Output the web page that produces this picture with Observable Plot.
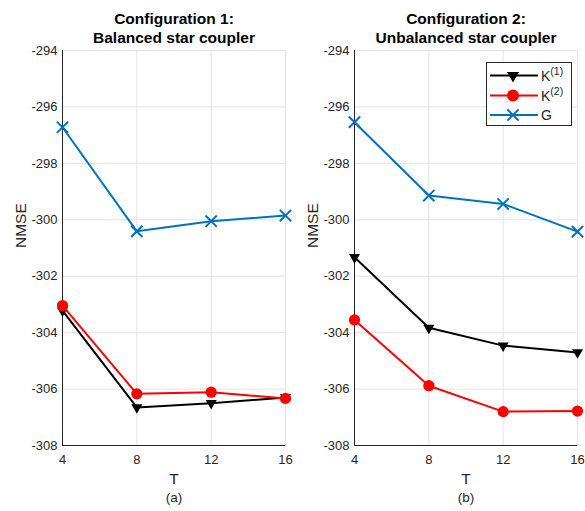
<!DOCTYPE html>
<html><head><meta charset="utf-8">
<script src="https://cdn.jsdelivr.net/npm/d3@7"></script>
<script src="https://cdn.jsdelivr.net/npm/@observablehq/plot@0.6"></script>
<style>
body{margin:0;background:#fff;font-family:"Liberation Sans",Arial,sans-serif;}
#wrap{position:relative;width:585px;height:511px;overflow:hidden;}
.panel{position:absolute;top:0;}
#legend{position:absolute;left:485px;top:62px;}
</style></head><body>
<div id="wrap">
<div class="panel" id="p1" style="left:0px"></div>
<div class="panel" id="p2" style="left:292px"></div>
<div id="legend"></div>
</div>
<script>
// ---- data ----
const T = [4, 8, 12, 16];
const cfg1_K1 = [-303.22, -306.65, -306.50, -306.30];
const cfg1_K2 = [-303.04, -306.17, -306.11, -306.33];
const cfg1_G  = [-296.72, -300.41, -300.05, -299.85];
const cfg2_K1 = [-301.33, -303.83, -304.46, -304.70];
const cfg2_K2 = [-303.55, -305.88, -306.80, -306.78];
const cfg2_G  = [-296.54, -299.14, -299.44, -300.42];
const seriesNames = ["K(1)", "K(2)", "G"];
const titles1 = ["Configuration 1:", "Configuration 2:"];
const titles2 = ["Balanced star coupler", "Unbalanced star coupler"];
const subLabels = ["(a)", "(b)"];
const xTicks = [4, 8, 12, 16];
const yTicks = [-308, -306, -304, -302, -300, -298, -296, -294];

const colors = {"K(1)": "#000000", "K(2)": "#ff0000", "G": "#0072bd"};

function tidy(k1, k2, g) {
  const out = [];
  T.forEach((t, i) => {
    out.push({T: t, v: k1[i], s: "K(1)"});
    out.push({T: t, v: k2[i], s: "K(2)"});
    out.push({T: t, v: g[i], s: "G"});
  });
  return out;
}

function panel(data, t1, t2, sub, width) {
  const axisColor = "#262626";
  return Plot.plot({
    width: width, height: 511,
    marginLeft: 62, marginRight: width - 62 - 223, marginTop: 50, marginBottom: 66,
    style: {fontFamily: "Liberation Sans, Arial, sans-serif", fontSize: "13px", color: axisColor, background: "transparent", overflow: "visible"},
    x: {domain: [4, 16]},
    y: {domain: [-308, -294]},
    marks: [
      Plot.gridX(xTicks, {stroke: "#e3e3e3", strokeOpacity: 1}),
      Plot.gridY(yTicks, {stroke: "#e3e3e3", strokeOpacity: 1}),
      Plot.ruleX([4], {stroke: axisColor, strokeWidth: 1}),
      Plot.ruleY([-308], {stroke: axisColor, strokeWidth: 1}),
      Plot.axisY({ticks: yTicks, tickFormat: d => String(d), tickSize: 0, tickPadding: 5, fontSize: 13, label: null, fill: axisColor}),
      Plot.axisX({ticks: xTicks, tickFormat: d => String(d), tickSize: 0, tickPadding: 9, fontSize: 13, label: null, fill: axisColor}),
      Plot.line(data, {x: "T", y: "v", z: "s", stroke: d => colors[d.s], strokeWidth: 2}),
      Plot.dot(data.filter(d => d.s === "K(1)"), {x: "T", y: "v", symbol: "triangle", rotate: 180, r: 4.1, fill: "#000", stroke: "none"}),
      Plot.dot(data.filter(d => d.s === "K(2)"), {x: "T", y: "v", symbol: "circle", r: 5.6, fill: "#ff0000", stroke: "none"}),
      Plot.dot(data.filter(d => d.s === "G"), {x: "T", y: "v", symbol: "times", r: 5.2, stroke: "#0072bd", strokeWidth: 2, fill: "none"}),
      Plot.text([t1], {text: d => d, frameAnchor: "top", lineAnchor: "middle", dy: -31.5, fontSize: 15.5, fontWeight: "bold", fill: "#000"}),
      Plot.text([t2], {text: d => d, frameAnchor: "top", lineAnchor: "middle", dy: -12, fontSize: 15.5, fontWeight: "bold", fill: "#000"}),
      Plot.text(["NMSE"], {text: d => d, frameAnchor: "left", lineAnchor: "middle", dx: -41, rotate: -90, fontSize: 15.5, fill: axisColor}),
      Plot.text(["T"], {text: d => d, frameAnchor: "bottom", lineAnchor: "middle", dy: 34, fontSize: 15.5, fill: axisColor}),
      Plot.text([sub], {text: d => d, frameAnchor: "bottom", lineAnchor: "middle", dy: 52, fontSize: 13.5, fill: axisColor})
    ]
  });
}

document.getElementById("p1").appendChild(panel(tidy(cfg1_K1, cfg1_K2, cfg1_G), titles1[0], titles2[0], subLabels[0], 292));
document.getElementById("p2").appendChild(panel(tidy(cfg2_K1, cfg2_K2, cfg2_G), titles1[1], titles2[1], subLabels[1], 293));

// ---- legend ----
const lg = d3.select("#legend").append("svg").attr("width", 88).attr("height", 65)
  .style("font-family", "Liberation Sans, Arial, sans-serif").style("font-size", "14px");
lg.append("rect").attr("x", 1.5).attr("y", 0.5).attr("width", 85).attr("height", 63)
  .attr("fill", "#fff").attr("stroke", "#262626");
const rowsY = [13.5, 33.5, 53];
seriesNames.forEach((name, i) => {
  const y = rowsY[i];
  const c = colors[name];
  lg.append("line").attr("x1", 5).attr("x2", 53).attr("y1", y).attr("y2", y).attr("stroke", c).attr("stroke-width", 2);
  const g = lg.append("g").attr("transform", `translate(28,${y})`);
  if (name === "K(1)") g.append("path").attr("d", d3.symbol(d3.symbolTriangle, Math.PI * 4.5 * 4.5)()).attr("transform", "rotate(180)").attr("fill", "#000");
  else if (name === "K(2)") g.append("circle").attr("r", 6).attr("fill", "#ff0000");
  else g.append("path").attr("d", d3.symbol(d3.symbolTimes, Math.PI * 5.2 * 5.2)()).attr("stroke", c).attr("stroke-width", 2).attr("fill", "none");
  const t = lg.append("text").attr("x", 56).attr("y", y + 5).attr("fill", "#262626");
  if (name === "G") t.text("G");
  else {
    t.append("tspan").text("K");
    t.append("tspan").attr("dy", -6).attr("font-size", 10.5).text(name.slice(1));
  }
});
</script>
</body></html>
